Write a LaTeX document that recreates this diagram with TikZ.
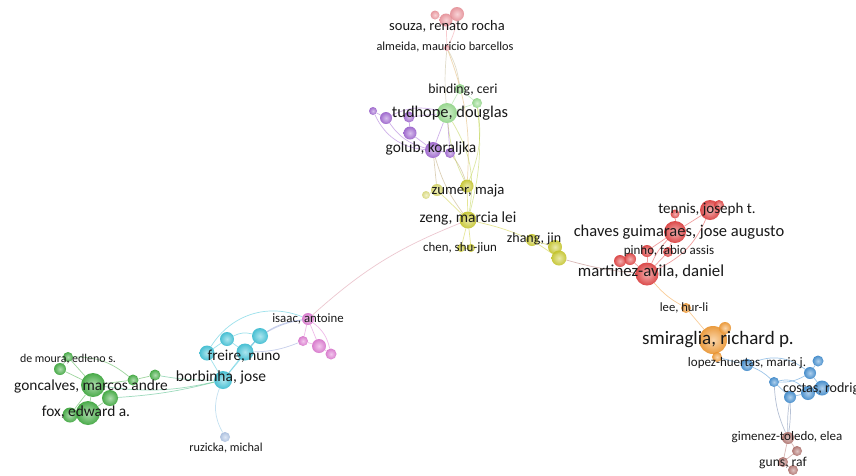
\documentclass[tikz,border=0pt]{standalone}
\usepackage{fontspec}
\setmainfont{Carlito}
\definecolor{vpink}{RGB}{240,150,158}
\definecolor{vlgreen}{RGB}{150,222,140}
\definecolor{vpurple}{RGB}{160,100,212}
\definecolor{vyellow}{RGB}{205,205,45}
\definecolor{vred}{RGB}{228,62,62}
\definecolor{vorange}{RGB}{245,155,50}
\definecolor{vblue}{RGB}{60,140,210}
\definecolor{vbrown}{RGB}{180,115,110}
\definecolor{vcyan}{RGB}{60,196,218}
\definecolor{vmagenta}{RGB}{225,120,212}
\definecolor{vlblue}{RGB}{175,198,232}
\definecolor{vgreen}{RGB}{60,172,60}
\pgfdeclarelayer{bg}
\pgfdeclarelayer{links}
\pgfsetlayers{bg,links,main}
\tikzset{
	dot/.style={shape=circle, inner sep=0pt, shading=radial, inner color=#1!45!white, outer color=#1!95!black, opacity=0.92},
	lbl/.style={inner sep=0pt, text=black!90, font=\fontsize{#1}{#1}\selectfont},
	link/.style={draw=#1, line width=0.7pt, opacity=0.5},
}
\begin{document}
\begin{tikzpicture}[x=1pt, y=-1pt]
	\clip (0,0) rectangle (856,475);
	\begin{pgfonlayer}{bg}
		\fill[white] (0,0) rectangle (856,475);
	\end{pgfonlayer}
	% Nodes:
	\node[dot=vpink, minimum size=9pt] (so1) at (435,15){};
	\node[dot=vpink, minimum size=13pt] (souza) at (446,20){};
	\node[dot=vpink, minimum size=14pt] (so3) at (457,14){};
	\node[dot=vpink, minimum size=6pt] (almeida) at (447,48){};
	\node[dot=vlgreen, minimum size=10pt] (binding) at (460,89){};
	\node[dot=vlgreen, minimum size=20pt] (tudhope) at (447,113){};
	\node[dot=vlgreen, minimum size=10pt] (gr3) at (477,103){};
	\node[dot=vpurple, minimum size=8pt] (pu1) at (373,111){};
	\node[dot=vpurple, minimum size=12pt] (pu2) at (386,118){};
	\node[dot=vpurple, minimum size=11pt] (pu3) at (409,117){};
	\node[dot=vpurple, minimum size=13pt] (pu4) at (410,133){};
	\node[dot=vpurple, minimum size=16pt] (golub) at (433,150){};
	\node[dot=vpurple, minimum size=10pt] (pu6) at (450,153){};
	\node[dot=vyellow!60!white, minimum size=8pt] (ye1) at (426,195){};
	\node[dot=vyellow!70!white, minimum size=12pt] (ye2) at (437,190){};
	\node[dot=vyellow, minimum size=13pt] (zumer) at (467,186){};
	\node[dot=vyellow, minimum size=17pt] (zeng) at (468,220){};
	\node[dot=vyellow, minimum size=8pt] (chen) at (461,248){};
	\node[dot=vyellow, minimum size=8pt] (ye6) at (471,248){};
	\node[dot=vyellow, minimum size=12pt] (zhang) at (532,240){};
	\node[dot=vyellow, minimum size=14pt] (ye8) at (555,247){};
	\node[dot=vyellow, minimum size=15pt] (ye9) at (559,258){};
	\node[dot=vred, minimum size=20pt] (tennis) at (710,210){};
	\node[dot=vred, minimum size=10pt] (re2) at (719,205){};
	\node[dot=vred, minimum size=9pt] (re3) at (675,214){};
	\node[dot=vred, minimum size=22pt] (chaves) at (675,232){};
	\node[dot=vred, minimum size=10pt] (pinho) at (668,252){};
	\node[dot=vred, minimum size=12pt] (re6) at (647,251){};
	\node[dot=vred, minimum size=12pt] (re7) at (630,259){};
	\node[dot=vred, minimum size=12pt] (re8) at (620,261){};
	\node[dot=vred, minimum size=23pt] (martinez) at (647,274){};
	\node[dot=vorange, minimum size=10pt] (lee) at (686,308){};
	\node[dot=vorange, minimum size=28pt] (smiraglia) at (713,340){};
	\node[dot=vorange, minimum size=12pt] (or3) at (725,328){};
	\node[dot=vorange, minimum size=10pt] (or4) at (717,357){};
	\node[dot=vblue, minimum size=12pt] (lopez) at (747,365){};
	\node[dot=vblue, minimum size=11pt] (bl2) at (818,361){};
	\node[dot=vblue, minimum size=12pt] (bl3) at (810,373){};
	\node[dot=vblue, minimum size=10pt] (bl4) at (774,382){};
	\node[dot=vblue, minimum size=12pt] (bl5) at (790,397){};
	\node[dot=vblue, minimum size=14pt] (costas) at (808,393){};
	\node[dot=vblue, minimum size=15pt] (bl7) at (822,388){};
	\node[dot=vbrown, minimum size=12pt] (gimenez) at (788,438){};
	\node[dot=vbrown, minimum size=10pt] (br2) at (797,451){};
	\node[dot=vbrown, minimum size=10pt] (guns) at (783,462){};
	\node[dot=vbrown, minimum size=10pt] (br4) at (793,470){};
	\node[dot=vmagenta, minimum size=12pt] (isaac) at (308,319){};
	\node[dot=vmagenta, minimum size=10pt] (ma2) at (303,341){};
	\node[dot=vmagenta, minimum size=14pt] (ma3) at (319,346){};
	\node[dot=vmagenta, minimum size=11pt] (ma4) at (331,354){};
	\node[dot=vcyan, minimum size=14pt] (cy1) at (227,339){};
	\node[dot=vcyan, minimum size=16pt] (cy2) at (260,336){};
	\node[dot=vcyan, minimum size=15pt] (cy3) at (207,353){};
	\node[dot=vcyan, minimum size=17pt] (freire) at (245,352){};
	\node[dot=vcyan, minimum size=18pt] (borbinha) at (223,380){};
	\node[dot=vlblue, minimum size=10pt] (ruzicka) at (225,437){};
	\node[dot=vgreen, minimum size=10pt] (gn1) at (68,357){};
	\node[dot=vgreen, minimum size=12pt] (gn2) at (60,369){};
	\node[dot=vgreen, minimum size=24pt] (goncalves) at (93,385){};
	\node[dot=vgreen, minimum size=16pt] (gn4) at (110,398){};
	\node[dot=vgreen, minimum size=24pt] (fox) at (88,413){};
	\node[dot=vgreen, minimum size=15pt] (gn6) at (70,415){};
	\node[dot=vgreen, minimum size=11pt] (gn7) at (133,380){};
	\node[dot=vgreen, minimum size=11pt] (gn8) at (155,375){};
	% Labels:
	\node[lbl=14.5] (souza-l) at (447,26){souza, renato rocha};
	\node[lbl=12.3] (almeida-l) at (445,47){almeida, mauricio barcellos};
	\node[lbl=13.8] (binding-l) at (463,90){binding, ceri};
	\node[lbl=16.4] (tudhope-l) at (450,113){tudhope, douglas};
	\node[lbl=15.4] (golub-l) at (431,148){golub, koraljka};
	\node[lbl=14.7] (zumer-l) at (468,191){zumer, maja};
	\node[lbl=15.4] (zeng-l) at (468,218){zeng, marcia lei};
	\node[lbl=12.9] (chen-l) at (460,248){chen, shu-jiun};
	\node[lbl=14] (zhang-l) at (534,239){zhang, jin};
	\node[lbl=15] (tennis-l) at (707,210){tennis, joseph t.};
	\node[lbl=16.5] (chaves-l) at (679,232){chaves guimaraes, jose augusto};
	\node[lbl=13] (pinho-l) at (669,251){pinho, fabio assis};
	\node[lbl=16.8] (martinez-l) at (651,272){martinez-avila, daniel};
	\node[lbl=12.6] (lee-l) at (684,308){lee, hur-li};
	\node[lbl=19] (smiraglia-l) at (718,340){smiraglia, richard p.};
	\node[lbl=13] (lopez-l) at (747,363){lopez-huertas, maria j.};
	\node[lbl=14, anchor=west] (costas-l) at (783,389){costas, rodrigo};
	\node[lbl=13] (gimenez-l) at (787,437){gimenez-toledo, elea};
	\node[lbl=13.6] (guns-l) at (783,463){guns, raf};
	\node[lbl=12.8] (isaac-l) at (308,319){isaac, antoine};
	\node[lbl=15.2] (freire-l) at (244,356){freire, nuno};
	\node[lbl=15.5] (borbinha-l) at (221,377){borbinha, jose};
	\node[lbl=12.2] (ruzicka-l) at (226,448){ruzicka, michal};
	\node[lbl=11.9] (moura-l) at (68,359){de moura, edleno s.};
	\node[lbl=15.4] (goncalves-l) at (91,386){goncalves, marcos andre};
	\node[lbl=15.4] (fox-l) at (86,412){fox, edward a.};
	% Links:
	\begin{pgfonlayer}{links}
		\draw[link=vpink] (so1) -- (souza);
		\draw[link=vpink] (souza) -- (so3);
		\draw[link=vpink] (souza) -- (almeida);
		\draw[link=vpink] (so3) to[bend left=10] (almeida);
		\draw[link=vpink!50!vlgreen] (almeida) to[bend right=5] (tudhope);
		\draw[link=vpink!50!vlgreen] (almeida) to[bend left=10] (binding);
		\draw[link=vpink!50!vyellow] (almeida) to[bend left=12] (zumer);
		\draw[link=vlgreen] (binding) -- (tudhope);
		\draw[link=vlgreen] (tudhope) -- (gr3);
		\draw[link=vlgreen] (binding) -- (gr3);
		\draw[link=vyellow!70!vlgreen] (tudhope) to[bend left=20] (zeng);
		\draw[link=vyellow!70!vlgreen] (tudhope) to[bend right=10] (zumer);
		\draw[link=vyellow!70!vlgreen] (gr3) to[bend left=15] (zumer);
		\draw[link=vyellow!70!vlgreen] (gr3) to[bend left=10] (zeng);
		\draw[link=vpurple] (pu1) -- (pu2);
		\draw[link=vpurple] (pu2) to[bend left=20] (tudhope);
		\draw[link=vpurple] (pu2) to[bend right=20] (golub);
		\draw[link=vpurple] (pu3) -- (pu4);
		\draw[link=vpurple] (pu4) -- (golub);
		\draw[link=vpurple] (pu3) -- (tudhope);
		\draw[link=vpurple] (golub) -- (pu6);
		\draw[link=vpurple] (pu6) -- (tudhope);
		\draw[link=vpurple] (pu1) to[bend right=30] (golub);
		\draw[link=vpurple] (golub) -- (tudhope);
		\draw[link=vyellow!60!vpurple] (golub) to[bend right=10] (zeng);
		\draw[link=vyellow!60!vpurple] (golub) -- (ye2);
		\draw[link=vyellow!60!vpurple] (pu6) to[bend left=10] (zumer);
		\draw[link=vyellow] (ye1) -- (ye2);
		\draw[link=vyellow] (ye2) -- (zeng);
		\draw[link=vyellow] (zumer) -- (zeng);
		\draw[link=vyellow] (zeng) -- (chen);
		\draw[link=vyellow] (zeng) -- (ye6);
		\draw[link=vyellow] (chen) -- (ye6);
		\draw[link=vyellow] (zeng) to[bend left=5] (zhang);
		\draw[link=vyellow] (zhang) -- (ye8);
		\draw[link=vyellow] (ye8) -- (ye9);
		\draw[link=vyellow] (zhang) -- (ye9);
		\draw[link=vbrown] (ye9) to[bend right=5] (martinez);
		\draw[link=vmagenta!70!vyellow] (zeng) to[bend right=10] (isaac);
		\draw[link=vred] (re8) -- (re7);
		\draw[link=vred] (re7) -- (martinez);
		\draw[link=vred] (re6) -- (martinez);
		\draw[link=vred] (martinez) -- (pinho);
		\draw[link=vred] (pinho) -- (chaves);
		\draw[link=vred] (martinez) to[bend left=10] (chaves);
		\draw[link=vred] (chaves) -- (tennis);
		\draw[link=vred] (tennis) -- (re2);
		\draw[link=vred] (re3) -- (chaves);
		\draw[link=vred] (martinez) to[bend right=20] (tennis);
		\draw[link=vred] (re6) -- (chaves);
		\draw[link=vorange] (martinez) to[bend right=10] (lee);
		\draw[link=vorange] (lee) -- (smiraglia);
		\draw[link=vorange] (smiraglia) -- (or3);
		\draw[link=vorange] (smiraglia) -- (or4);
		\draw[link=vblue] (or4) -- (lopez);
		\draw[link=vblue] (lopez) to[bend left=10] (bl4);
		\draw[link=vblue] (lopez) to[bend left=30] (bl3);
		\draw[link=vblue] (bl4) -- (bl5);
		\draw[link=vblue] (bl5) -- (costas);
		\draw[link=vblue] (costas) -- (bl7);
		\draw[link=vblue] (bl7) -- (bl3);
		\draw[link=vblue] (bl3) -- (bl2);
		\draw[link=vblue] (bl4) to[bend left=30] (costas);
		\draw[link=vblue] (bl4) to[bend right=15] (bl3);
		\draw[link=vblue!60!vbrown] (bl5) to[bend right=5] (gimenez);
		\draw[link=vblue!60!vbrown] (bl5) to[bend left=5] (gimenez);
		\draw[link=vblue!60!vbrown] (bl4) to[bend right=10] (gimenez);
		\draw[link=vbrown] (gimenez) -- (br2);
		\draw[link=vbrown] (br2) -- (guns);
		\draw[link=vbrown] (guns) -- (br4);
		\draw[link=vbrown] (gimenez) -- (guns);
		\draw[link=vmagenta] (isaac) -- (ma2);
		\draw[link=vmagenta] (isaac) -- (ma3);
		\draw[link=vmagenta] (ma3) -- (ma4);
		\draw[link=vmagenta] (isaac) to[bend left=20] (ma4);
		\draw[link=vmagenta] (ma2) -- (ma3);
		\draw[link=vmagenta!50!vcyan] (isaac) to[bend right=10] (cy2);
		\draw[link=vmagenta!50!vcyan] (isaac) to[bend right=20] (freire);
		\draw[link=vmagenta!50!vcyan] (ma2) to[bend left=10] (freire);
		\draw[link=vcyan] (cy1) -- (cy3);
		\draw[link=vcyan] (cy3) -- (borbinha);
		\draw[link=vcyan] (cy1) -- (freire);
		\draw[link=vcyan] (freire) -- (borbinha);
		\draw[link=vcyan] (freire) -- (cy2);
		\draw[link=vcyan] (cy1) to[bend left=20] (cy2);
		\draw[link=vcyan] (borbinha) -- (cy2);
		\draw[link=vcyan] (cy3) to[bend left=40] (isaac);
		\draw[link=vlblue!70!vcyan] (borbinha) to[bend right=25] (ruzicka);
		\draw[link=vgreen!60!vcyan] (borbinha) to[bend left=5] (gn8);
		\draw[link=vgreen!60!vcyan] (borbinha) to[bend left=10] (goncalves);
		\draw[link=vgreen!60!vcyan] (borbinha) to[bend left=5] (gn4);
		\draw[link=vgreen] (gn8) -- (gn7);
		\draw[link=vgreen] (gn7) -- (goncalves);
		\draw[link=vgreen] (goncalves) -- (gn4);
		\draw[link=vgreen] (goncalves) -- (fox);
		\draw[link=vgreen] (fox) -- (gn6);
		\draw[link=vgreen] (gn4) -- (fox);
		\draw[link=vgreen] (goncalves) -- (gn1);
		\draw[link=vgreen] (gn1) -- (gn2);
		\draw[link=vgreen] (gn2) -- (goncalves);
		\draw[link=vgreen] (gn6) -- (goncalves);
		\draw[link=vgreen] (gn1) to[bend left=20] (gn7);
	\end{pgfonlayer}
\end{tikzpicture}
\end{document}
